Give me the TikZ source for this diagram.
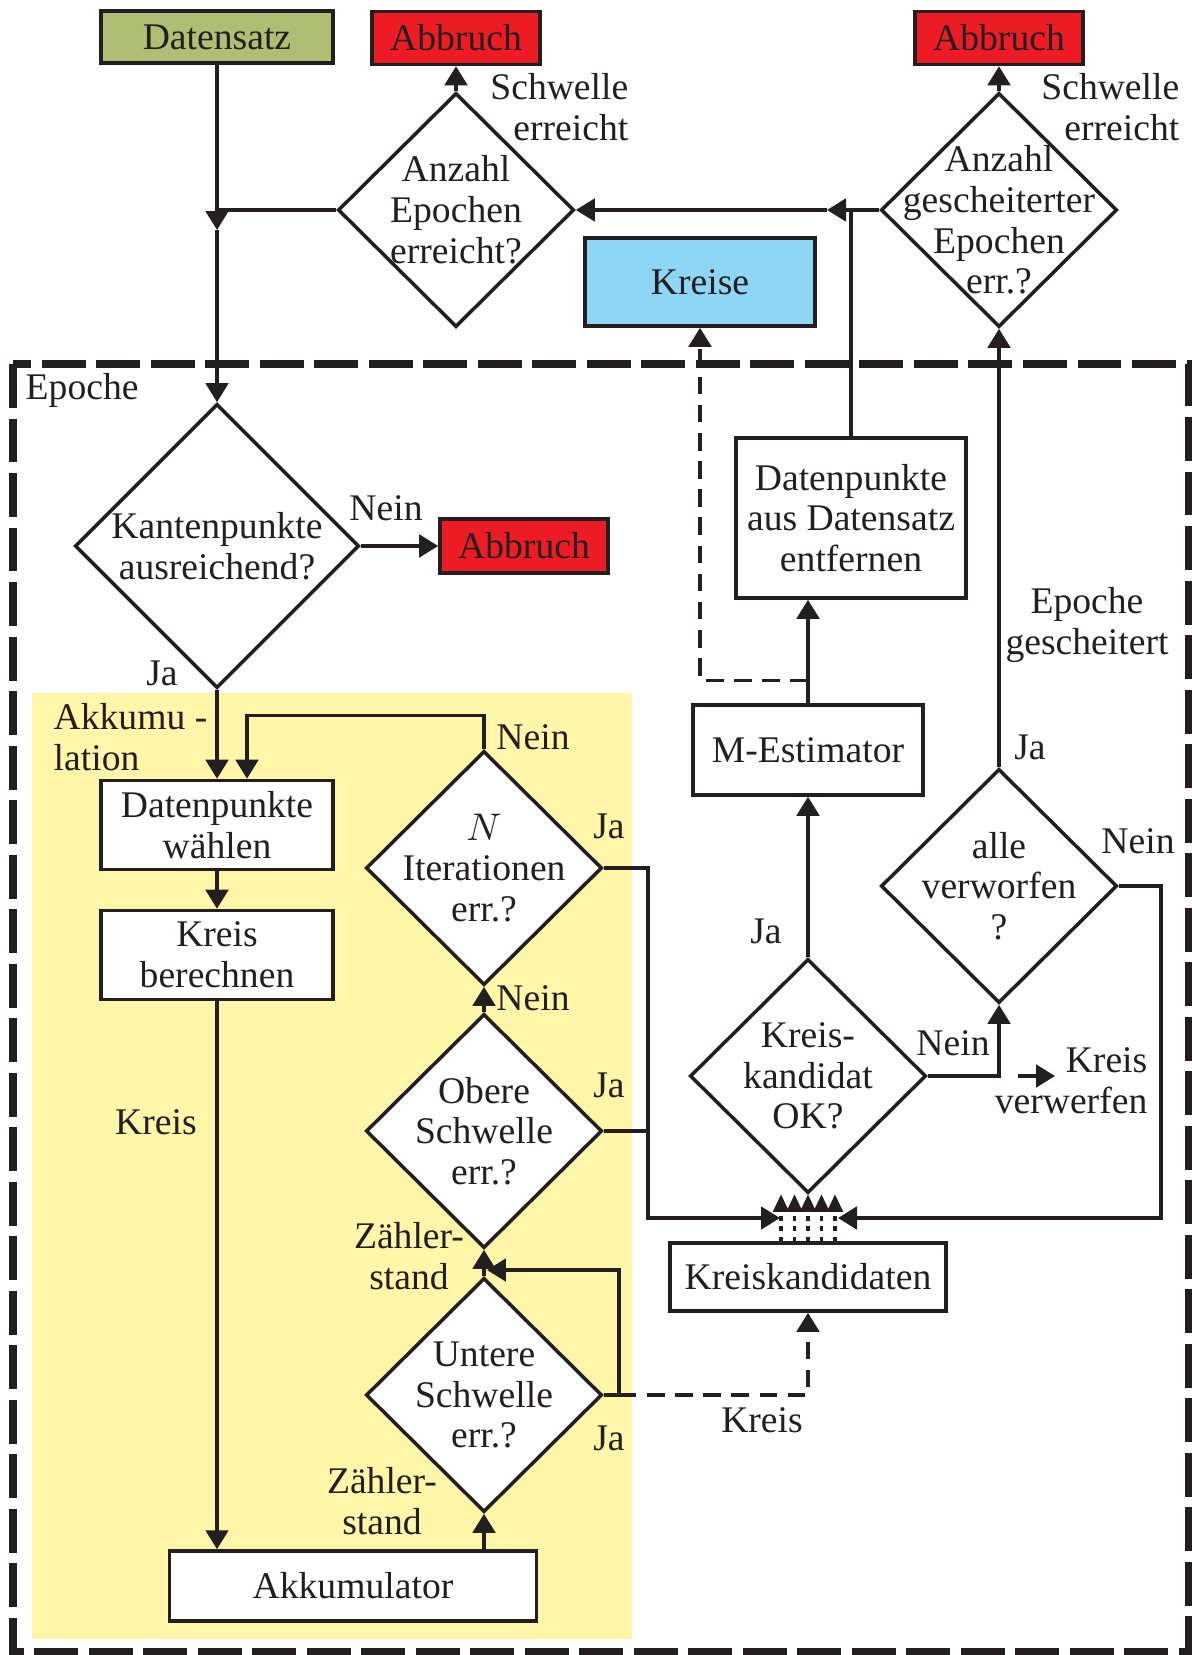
\documentclass[tikz,border=0pt]{standalone}
\usepackage{fontspec}
\setmainfont{Liberation Serif}
\usetikzlibrary{arrows.meta, positioning, shapes.geometric, calc}

\definecolor{dataGreen}{RGB}{175,190,115}
\definecolor{abortRed}{RGB}{237,28,36}
\definecolor{circleBlue}{RGB}{141,215,245}
\definecolor{accYellow}{RGB}{255,246,170}
\definecolor{ink}{RGB}{35,31,32}

\tikzset{
  box/.style={draw=ink, line width=1pt, fill=white, align=center, inner sep=2pt},
  decision/.style={diamond, draw=ink, line width=1pt, fill=white, inner sep=0pt,
    minimum width=2.36cm, minimum height=2.34cm},
  dtext/.style={align=center, inner sep=0pt},
  flow/.style={draw=ink, line width=0.95pt, -{Triangle[length=5.4pt,width=6.4pt]}},
  link/.style={draw=ink, line width=0.95pt},
  dashflow/.style={flow, dash pattern=on 5pt off 3pt},
  dotflow/.style={draw=ink, line width=0.95pt, dash pattern=on 1.3pt off 1.6pt,
    -{Triangle[length=5pt,width=4.4pt]}},
  lbl/.style={align=center, inner sep=0pt},
}

\begin{document}
\begin{tikzpicture}[x=0.01cm, y=-0.01cm, font=\fontsize{10.7}{11.6}\selectfont, text=ink]
  \useasboundingbox (0,0) rectangle (1192,1655);

  % Background areas
  \fill[accYellow] (32,693) rectangle (632,1639);
  \draw[ink, line width=2pt, dash pattern=on 12.5pt off 3pt] (13,364) rectangle (1188,1651);

  % Top row
  \node[box, fill=dataGreen, minimum width=2.32cm, minimum height=0.52cm] (data) at (217,37) {Datensatz};
  \node[box, fill=abortRed, minimum width=1.68cm, minimum height=0.53cm] (stopA) at (456,38) {Abbruch};
  \node[box, fill=abortRed, minimum width=1.68cm, minimum height=0.53cm] (stopB) at (999,38) {Abbruch};
  \node[decision, label={[dtext]center:Anzahl\\Epochen\\erreicht?}] (epochs) at (456,210) {};
  \node[decision, label={[dtext, yshift=-0.1cm]center:Anzahl\\gescheiterter\\Epochen\\err.?}] (failed) at (999,210) {};
  \node[box, fill=circleBlue, minimum width=2.3cm, minimum height=0.88cm] (circles) at (700,282) {Kreise};

  % Epoch
  \node[decision, minimum width=2.84cm, minimum height=2.84cm,
    label={[dtext]center:Kantenpunkte\\ausreichend?}] (edges) at (217,546) {};
  \node[box, fill=abortRed, minimum width=1.68cm, minimum height=0.54cm] (stopC) at (524,546) {Abbruch};
  \node[box, minimum width=2.3cm, minimum height=1.6cm] (remove) at (851,518) {Datenpunkte\\aus Datensatz\\entfernen};
  \node[box, minimum width=2.3cm, minimum height=0.9cm] (mest) at (808,750) {M-Estimator};
  \node[decision, label={[dtext]center:Kreis-\\kandidat\\OK?}] (ok) at (808,1076) {};
  \node[decision, label={[dtext]center:alle\\verworfen\\?}] (allrej) at (999,886) {};
  \node[box, minimum width=2.76cm, minimum height=0.68cm] (cand) at (808,1277) {Kreiskandidaten};

  % Accumulation
  \node[box, minimum width=2.32cm, minimum height=0.89cm] (pick) at (217,825) {Datenpunkte\\wählen};
  \node[box, minimum width=2.32cm, minimum height=0.89cm] (calc) at (217,955) {Kreis\\berechnen};
  \node[box, minimum width=3.67cm, minimum height=0.7cm] (acc) at (353,1586) {Akkumulator};
  \node[decision, label={[dtext]center:$N$\\Iterationen\\err.?}] (iter) at (484,868) {};
  \node[decision, label={[dtext]center:Obere\\Schwelle\\err.?}] (upper) at (484,1131) {};
  \node[decision, label={[dtext]center:Untere\\Schwelle\\err.?}] (lower) at (484,1395) {};

  % Helper points
  \coordinate (jA) at (217,210);
  \coordinate (jAtip) at (217,230);
  \coordinate (jB) at (851,210);
  \coordinate (jBtip) at (827,210);
  \coordinate (candL) at (780,1218);
  \coordinate (candR) at (838,1218);
  \coordinate (cnt) at (487,1270);
  \coordinate (rej1) at (1018,1076);
  \coordinate (rej2) at (1055,1076);

  % Connectors, top
  \draw[flow] (data.south) -- (jAtip);
  \draw[flow] (jAtip) -- (edges.north);
  \draw[link] (epochs.west) -- (jA);
  \draw[flow] (epochs.north) -- (stopA.south);
  \draw[flow] (failed.north) -- (stopB.south);
  \draw[flow] (failed.west) -- (jBtip);
  \draw[flow] (jBtip) -- (epochs.east);
  \draw[link] (remove.north) -- (jB);

  % Connectors, epoch
  \draw[flow] (edges.east) -- (stopC.west);
  \draw[flow] (edges.south) -- (pick.north);
  \draw[flow] (pick) -- (calc);
  \draw[flow] (calc.south) -- (calc.south |- acc.north);
  \draw[flow] (acc.north -| lower.south) -- (lower.south);
  \draw[flow] (lower.north) -- (upper.south);
  \draw[flow] (upper.north) -- (iter.south);
  \draw[flow] (iter.north) -- ++(0,-34) -| ($(pick.north)+(30,0)$);
  \draw[flow] (lower.east) -- ++(15,0) |- (cnt);
  \draw[dashflow] ($(lower.east)+(15,0)$) -| (cand.south);
  \draw[flow] (iter.east) -| ($(candL)+(-132,0)$) -- (candL);
  \draw[link] (upper.east) -- ++(46,0);
  \draw[flow] (allrej.east) -| ($(candR)+(323,0)$) -- (candR);
  \draw[flow] (ok.east) -| (allrej.south);
  \draw[flow] (rej1) -- (rej2);
  \draw[flow] (ok.north) -- (mest.south);
  \draw[flow] (mest.north) -- (mest.north |- remove.south);
  \draw[dashflow] ($(mest.north)+(0,-23)$) -| (circles.south);
  \draw[flow] (allrej.north) -- (failed.south);
  \foreach \dx in {-27,-13.5,0,13.5,27}
    \draw[dotflow] ($(cand.north)+(\dx,0)$) -- ++(0,-47);

  % Labels
  \node[lbl, anchor=east, align=right] (thrA) at (629,107) {Schwelle\\erreicht};
  \node[lbl, anchor=east, align=right] (thrB) at (1180,107) {Schwelle\\erreicht};
  \node[lbl, anchor=west] (epLbl) at (25,390) {Epoche};
  \node[lbl] (noC) at (386,508) {Nein};
  \node[lbl] (yesE) at (162,673) {Ja};
  \node[lbl, anchor=west, align=left] (accLbl) at (53,737) {Akkumu -\\lation};
  \node[lbl] (noIt) at (533,737) {Nein};
  \node[lbl] (yesIt) at (609,826) {Ja};
  \node[lbl] (noUp) at (533,998) {Nein};
  \node[lbl] (yesUp) at (609,1085) {Ja};
  \node[lbl] (cntA) at (409,1256) {Zähler-\\stand};
  \node[lbl] (cntB) at (382,1501) {Zähler-\\stand};
  \node[lbl] (yesLo) at (609,1438) {Ja};
  \node[lbl] (circR) at (762,1420) {Kreis};
  \node[lbl] (circL) at (156,1122) {Kreis};
  \node[lbl] (yesOk) at (766,931) {Ja};
  \node[lbl] (noOk) at (953,1043) {Nein};
  \node[lbl, anchor=east, align=right] (rejLbl) at (1148,1081) {Kreis\\verwerfen};
  \node[lbl] (failLbl) at (1087,625) {Epoche\\gescheitert};
  \node[lbl] (yesAll) at (1030,747) {Ja};
  \node[lbl] (noAll) at (1138,841) {Nein};
\end{tikzpicture}
\end{document}
